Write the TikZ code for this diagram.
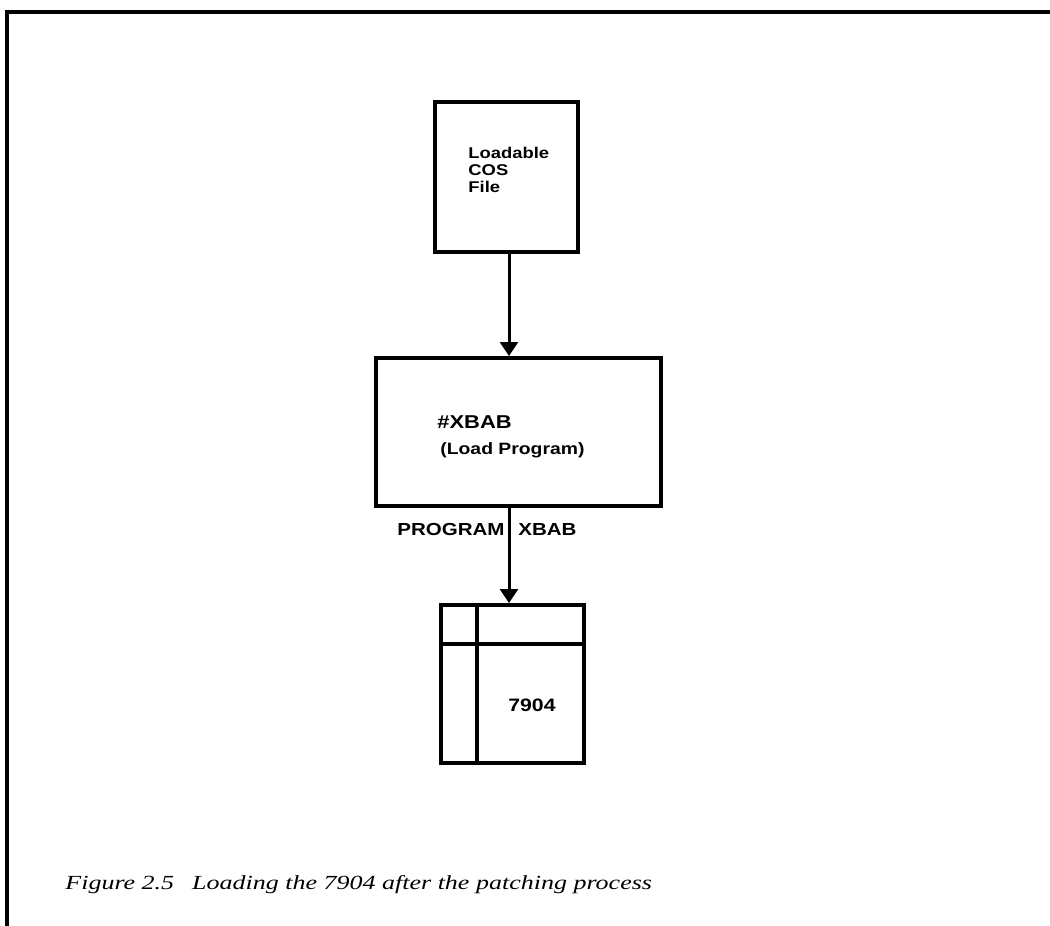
\documentclass[tikz,border=0pt]{standalone}
\usepackage{fontspec}
\setmainfont{Liberation Serif}
\newfontfamily\hv[FakeStretch=1.18]{Liberation Sans}
\newfontfamily\capfont[FakeStretch=1.3]{Liberation Serif}
\usetikzlibrary{arrows.meta}
\begin{document}
\begin{tikzpicture}[x=0.5pt,y=-0.5pt,
  boxframe/.style={draw, line width=2pt, inner sep=0pt},
  btext/.style={font=\hv\bfseries\fontsize{8.5}{10}\selectfont, inner sep=0pt},
  flow/.style={line width=1.5pt, -{Triangle[width=9pt,length=7pt]}},
  frameline/.style={line width=1.6pt}]
\useasboundingbox (0,0) rectangle (1050,926);
% frame
\coordinate (fl) at (7,926);
\coordinate (fc) at (7,12);
\coordinate (fr) at (1050,12);
\draw[frameline] (fl) -- (fc) -- (fr);
% box 1
\node[boxframe, minimum width=71.5pt, minimum height=75pt] (box1) at (506.5,177) {};
\node[btext, anchor=west, align=left, font=\hv\bfseries\fontsize{7.8}{8.5}\selectfont] (t1) at (468,170) {Loadable\\COS\\File};
% box 2
\node[boxframe, minimum width=142.5pt, minimum height=74pt] (box2) at (518.5,432) {};
\node[btext, anchor=base west, font=\hv\bfseries\fontsize{9.3}{11}\selectfont] (t2a) at (437,428) {\#XBAB};
\node[btext, anchor=base west, font=\hv\bfseries\fontsize{8.2}{10}\selectfont] (t2b) at (440,454) {(Load Program)};
% box 3
\node[boxframe, minimum width=71.5pt, minimum height=79pt] (box3) at (512.5,684) {};
\coordinate (v1) at (477,605);
\coordinate (v2) at (477,763);
\coordinate (h1) at (441,644);
\coordinate (h2) at (584,644);
\draw[line width=1.8pt] (v1) -- (v2);
\draw[line width=1.8pt] (h1) -- (h2);
\node[btext, font=\hv\bfseries\fontsize{9}{10}\selectfont] (t3) at (532,705) {7904};
% arrows
\coordinate (ax) at (509,0);
\draw[flow] (box1.south -| ax) -- (box2.north -| ax);
\draw[flow] (box2.south -| ax) -- (box3.north -| ax);
\node[btext, anchor=base east, font=\hv\bfseries\fontsize{8.7}{10}\selectfont] (lab1) at (505,535) {PROGRAM};
\node[btext, anchor=base west, font=\hv\bfseries\fontsize{8.7}{10}\selectfont] (lab2) at (518,535) {XBAB};
% caption
\node[anchor=base west, inner sep=0pt, font=\capfont\itshape\fontsize{10}{12}\selectfont] (cap) at (65,889) {Figure 2.5\hspace{0.9em}Loading the 7904 after the patching process};
\end{tikzpicture}
\end{document}
